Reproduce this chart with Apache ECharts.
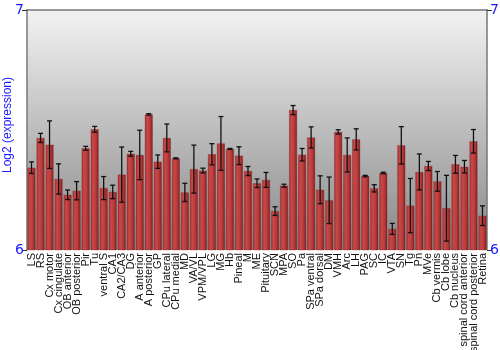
<!DOCTYPE html>
<html><head><meta charset="utf-8">
<script src="https://cdn.jsdelivr.net/npm/echarts@6/dist/echarts.min.js"></script>
<style>html,body{margin:0;padding:0;background:#fff}#c{width:500px;height:350px}</style>
</head><body><div id="c"></div>
<script>
var categories = ["LS","RS","Cx motor","Cx cingulate","OB anterior","OB posterior","Pir","Tu","ventral S","CA1","CA2/CA3","DG","A anterior","A posterior","GP","CPu lateral","CPu medial","MD","VA/VL","VPM/VPL","LG","MG","Hb","Pineal","M","ME","Pituitary","SCN","MPA","SO","Pa","SPa ventral","SPa dorsal","DM","VMH","Arc","LH","PAG","SC","IC","VTA","SN","Tg","Pn","MVe","Cb vermis","Cb lobe","Cb nucleus","spinal cord anterior","spinal cord posterior","Retina"];
var values = [6.343,6.467,6.439,6.296,6.230,6.247,6.424,6.503,6.258,6.242,6.314,6.401,6.396,6.565,6.368,6.467,6.382,6.240,6.337,6.331,6.399,6.444,6.421,6.393,6.329,6.278,6.292,6.162,6.268,6.583,6.397,6.469,6.251,6.207,6.492,6.396,6.461,6.308,6.257,6.321,6.088,6.436,6.185,6.325,6.350,6.286,6.174,6.357,6.347,6.453,6.143];
var errors = [0.024,0.019,0.099,0.063,0.020,0.038,0.008,0.012,0.048,0.028,0.115,0.010,0.103,0.003,0.028,0.058,0.002,0.038,0.100,0.010,0.044,0.112,0.002,0.037,0.019,0.018,0.031,0.018,0.006,0.019,0.026,0.044,0.058,0.097,0.009,0.071,0.044,0.003,0.015,0.003,0.023,0.078,0.113,0.075,0.019,0.041,0.137,0.037,0.026,0.049,0.041];
var yTicks = [6, 7];
var yTitle = 'Log2 (expression)';

var chart = echarts.init(document.getElementById('c'), null, {renderer:'canvas'});
var errData = values.map(function(v,i){return [i, v - errors[i], v + errors[i]];});
var yAxisCommon = {
  type:'value', min:yTicks[0], max:yTicks[1], interval:1,
  axisLine:{show:true,lineStyle:{color:'#777',width:1.5}},
  axisTick:{show:true,length:5,lineStyle:{color:'#333'}},
  splitLine:{show:false},
  axisLabel:{color:'#1a1aff',fontSize:14,fontFamily:'DejaVu Sans',margin:3}
};
chart.setOption({
  animation:false,
  grid:{left:27,right:13,top:10,bottom:100,containLabel:false,outerBoundsMode:'none',
    show:true,borderWidth:0,
    backgroundColor:{type:'linear',x:0,y:0,x2:0,y2:1,colorStops:[{offset:0,color:'#f2f2f2'},{offset:1,color:'#888888'}]}},
  graphic:[{type:'text',rotation:Math.PI/2,x:8,y:125,
    style:{text:yTitle,fill:'#1a1aff',font:'12px "Liberation Sans"',textAlign:'center',textVerticalAlign:'middle'}}],
  xAxis:[{type:'category',data:categories,
    axisLine:{show:false},axisTick:{show:false},
    axisLabel:{rotate:90,interval:0,color:'#111',fontSize:11,fontFamily:'Liberation Sans',margin:3}},
    {type:'category',data:categories,position:'top',
    axisLine:{show:true,lineStyle:{color:'#777',width:1.5}},axisTick:{show:false},axisLabel:{show:false}}],
  yAxis:[
    Object.assign({},yAxisCommon,{position:'left'}),
    Object.assign({},yAxisCommon,{position:'right'})
  ],
  series:[
    {type:'bar',data:values,barCategoryGap:'12%',
      itemStyle:{
        color:{type:'linear',x:0,y:0,x2:1,y2:0,colorStops:[
          {offset:0,color:'#a53030'},{offset:0.3,color:'#c94848'},{offset:0.65,color:'#b83a3a'},{offset:1,color:'#7e2020'}]},
        borderColor:'rgba(120,30,30,0.6)',borderWidth:0.5}},
    {type:'custom',data:errData,z:10,
      renderItem:function(params,api){
        var x=api.value(0), lo=api.coord([x,api.value(1)]), hi=api.coord([x,api.value(2)]);
        var cx=lo[0], w=2.5;
        var st={stroke:'#111',lineWidth:1.3};
        return {type:'group',children:[
          {type:'line',shape:{x1:cx,y1:lo[1],x2:cx,y2:hi[1]},style:st},
          {type:'line',shape:{x1:cx-w,y1:lo[1],x2:cx+w,y2:lo[1]},style:st},
          {type:'line',shape:{x1:cx-w,y1:hi[1],x2:cx+w,y2:hi[1]},style:st}
        ]};
      }}
  ]
});
</script></body></html>
